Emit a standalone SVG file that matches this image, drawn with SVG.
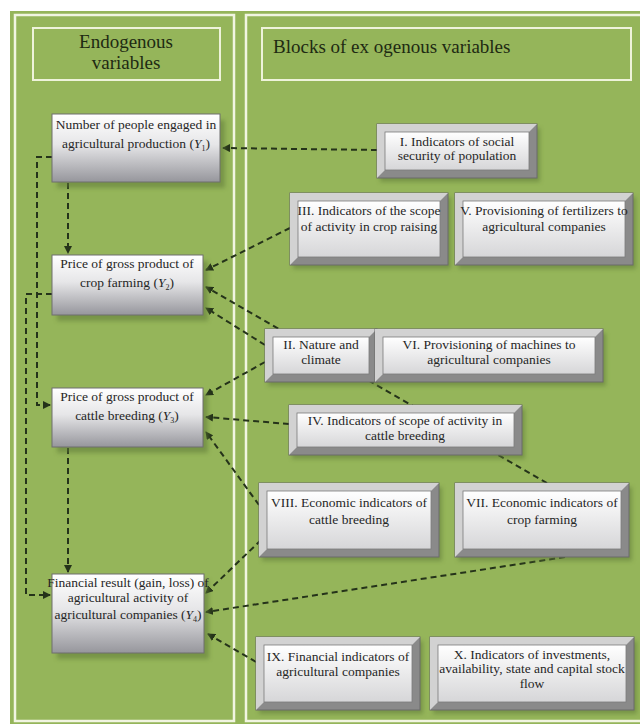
<svg xmlns="http://www.w3.org/2000/svg" width="640" height="724" viewBox="0 0 640 724">
<style>
.bg{fill:#95b55a}
.panel{fill:none;stroke:#f1f5e1;stroke-width:2.5}
.hdr{fill:none;stroke:#eef3da;stroke-width:2}
.ht{font-family:"Liberation Serif",serif;font-size:19px;fill:#1e2a12}
.t{font-family:"Liberation Serif",serif;font-size:13.5px;fill:#262626}
.lnode{fill:url(#gl);stroke:#6f6f6f;stroke-width:1}
.shadow{fill:#5f7a38;opacity:0.55;filter:url(#blur)}
.outer{fill:#8a8a8a;stroke:#6a6a6a;stroke-width:1}
.bevel{fill:#d2d2d2}
.face{fill:url(#gr);stroke:#7a7a7a;stroke-width:0.8}
.c{fill:none;stroke:#25331a;stroke-width:2;stroke-dasharray:6 4;marker-end:url(#ah)}
.cn{fill:none;stroke:#25331a;stroke-width:2;stroke-dasharray:6 4}
</style>
<defs>
<linearGradient id="gl" x1="0" y1="0" x2="0" y2="1">
<stop offset="0" stop-color="#ffffff"/>
<stop offset="0.45" stop-color="#e6e6e8"/>
<stop offset="1" stop-color="#96969c"/>
</linearGradient>
<linearGradient id="gr" x1="0" y1="0" x2="0" y2="1">
<stop offset="0" stop-color="#ffffff"/>
<stop offset="1" stop-color="#d6d6d8"/>
</linearGradient>
<filter id="blur" x="-10%" y="-10%" width="130%" height="130%"><feGaussianBlur stdDeviation="2"/></filter>
<marker id="ah" markerWidth="8" markerHeight="8" refX="7" refY="4" orient="auto" markerUnits="userSpaceOnUse">
<path d="M0,0 L8,4 L0,8 z" fill="#25331a"/>
</marker>
</defs>
<rect x="0" y="0" width="640" height="724" fill="#ffffff"/>
<rect class="bg" x="10" y="11" width="630" height="713"/>
<rect class="panel" x="15" y="15" width="219" height="706"/>
<rect class="panel" x="246" y="15" width="400" height="706"/>

<g id="hdr-endo">
<rect class="hdr" x="33" y="28" width="187" height="52"/>
<text class="ht" x="126" y="48" text-anchor="middle">Endogenous</text>
<text class="ht" x="126" y="69" text-anchor="middle">variables</text>
</g>
<g id="hdr-exo">
<rect class="hdr" x="262" y="28" width="369" height="52"/>
<text class="ht" x="273" y="53">Blocks of ex ogenous variables</text>
</g>

<g id="connectors">
<path class="c" d="M377,150 L223,148"/>
<path class="c" d="M68,183 L68,253"/>
<path class="c" d="M52,157 L37,157 L37,405 L50,405"/>
<path class="c" d="M52,294 L26,294 L26,595 L50,595"/>
<path class="c" d="M68,448 L68,572"/>
<path class="c" d="M290,228 L206,270"/>
<path class="c" d="M547,483 L206,287"/>
<path class="c" d="M265,345 L206,308"/>
<path class="c" d="M265,362 L206,395"/>
<path class="c" d="M289,424 L206,417"/>
<path class="c" d="M259,505 L206,432"/>
<path class="c" d="M261,540 L206,593"/>
<path class="c" d="M565,557 L206,612"/>
<path class="c" d="M256,662 L208,634"/>
</g>

<g id="n-y1">
<rect class="shadow" x="57" y="120" width="168" height="68"/>
<rect class="lnode" x="52" y="114" width="168" height="68"/>
<text class="t" x="136" y="129" text-anchor="middle">Number of people engaged in</text>
<text class="t" x="136" y="148" text-anchor="middle">agricultural production (<tspan font-style="italic">Y</tspan><tspan font-size="8" dy="3">1</tspan><tspan dy="-3">)</tspan></text>
</g>
<g id="n-y2">
<rect class="shadow" x="57" y="261" width="151" height="60"/>
<rect class="lnode" x="52" y="255" width="151" height="60"/>
<text class="t" x="127" y="268" text-anchor="middle">Price of gross product of</text>
<text class="t" x="127" y="287" text-anchor="middle">crop farming (<tspan font-style="italic">Y</tspan><tspan font-size="8" dy="3">2</tspan><tspan dy="-3">)</tspan></text>
</g>
<g id="n-y3">
<rect class="shadow" x="57" y="394" width="151" height="59"/>
<rect class="lnode" x="52" y="388" width="151" height="59"/>
<text class="t" x="127" y="401" text-anchor="middle">Price of gross product of</text>
<text class="t" x="127" y="420" text-anchor="middle">cattle breeding (<tspan font-style="italic">Y</tspan><tspan font-size="8" dy="3">3</tspan><tspan dy="-3">)</tspan></text>
</g>
<g id="n-y4">
<rect class="shadow" x="57" y="580" width="152" height="79"/>
<rect class="lnode" x="52" y="574" width="152" height="79"/>
<text class="t" x="128" y="587" text-anchor="middle">Financial result (gain, loss) of</text>
<text class="t" x="128" y="602" text-anchor="middle">agricultural activity of</text>
<text class="t" x="128" y="619" text-anchor="middle">agricultural companies (<tspan font-style="italic">Y</tspan><tspan font-size="8" dy="3">4</tspan><tspan dy="-3">)</tspan></text>
</g>

<g id="n-I">
<rect class="shadow" x="380" y="128" width="160" height="54"/>
<rect class="outer" x="377" y="124" width="160" height="54"/>
<path class="bevel" d="M377,124 L537,124 L529,132 L385,132 L385,170 L377,178 z"/>
<rect class="face" x="385" y="132" width="144" height="38"/>
<text class="t" x="457" y="146" text-anchor="middle">I. Indicators of social</text>
<text class="t" x="457" y="160" text-anchor="middle">security of population</text>
</g>
<g id="n-III">
<rect class="shadow" x="293" y="197" width="158" height="72"/>
<rect class="outer" x="290" y="193" width="158" height="72"/>
<path class="bevel" d="M290,193 L448,193 L440,201 L298,201 L298,257 L290,265 z"/>
<rect class="face" x="298" y="201" width="142" height="56"/>
<text class="t" x="369" y="215" text-anchor="middle">III. Indicators of the scope</text>
<text class="t" x="369" y="231" text-anchor="middle">of activity in crop raising</text>
</g>
<g id="n-V">
<rect class="shadow" x="458" y="197" width="178" height="72"/>
<rect class="outer" x="455" y="193" width="178" height="72"/>
<path class="bevel" d="M455,193 L633,193 L625,201 L463,201 L463,257 L455,265 z"/>
<rect class="face" x="463" y="201" width="162" height="56"/>
<text class="t" x="544" y="215" text-anchor="middle">V. Provisioning of fertilizers to</text>
<text class="t" x="544" y="231" text-anchor="middle">agricultural companies</text>
</g>
<g id="n-II">
<rect class="shadow" x="268" y="333" width="112" height="53"/>
<rect class="outer" x="265" y="329" width="112" height="53"/>
<path class="bevel" d="M265,329 L377,329 L369,337 L273,337 L273,374 L265,382 z"/>
<rect class="face" x="273" y="337" width="96" height="37"/>
<text class="t" x="321" y="349" text-anchor="middle">II. Nature and</text>
<text class="t" x="321" y="364" text-anchor="middle">climate</text>
</g>
<g id="n-VI">
<rect class="shadow" x="378" y="333" width="228" height="53"/>
<rect class="outer" x="375" y="329" width="228" height="53"/>
<path class="bevel" d="M375,329 L603,329 L595,337 L383,337 L383,374 L375,382 z"/>
<rect class="face" x="383" y="337" width="212" height="37"/>
<text class="t" x="489" y="349" text-anchor="middle">VI. Provisioning of machines to</text>
<text class="t" x="489" y="364" text-anchor="middle">agricultural companies</text>
</g>
<g id="n-IV">
<rect class="shadow" x="292" y="409" width="233" height="50"/>
<rect class="outer" x="289" y="405" width="233" height="50"/>
<path class="bevel" d="M289,405 L522,405 L514,413 L297,413 L297,447 L289,455 z"/>
<rect class="face" x="297" y="413" width="217" height="34"/>
<text class="t" x="405" y="425" text-anchor="middle">IV. Indicators of scope of activity in</text>
<text class="t" x="405" y="440" text-anchor="middle">cattle breeding</text>
</g>
<g id="n-VIII">
<rect class="shadow" x="262" y="487" width="180" height="74"/>
<rect class="outer" x="259" y="483" width="180" height="74"/>
<path class="bevel" d="M259,483 L439,483 L431,491 L267,491 L267,549 L259,557 z"/>
<rect class="face" x="267" y="491" width="164" height="58"/>
<text class="t" x="349" y="507" text-anchor="middle">VIII. Economic indicators of</text>
<text class="t" x="349" y="524" text-anchor="middle">cattle breeding</text>
</g>
<g id="n-VII">
<rect class="shadow" x="458" y="487" width="174" height="74"/>
<rect class="outer" x="455" y="483" width="174" height="74"/>
<path class="bevel" d="M455,483 L629,483 L621,491 L463,491 L463,549 L455,557 z"/>
<rect class="face" x="463" y="491" width="158" height="58"/>
<text class="t" x="542" y="507" text-anchor="middle">VII. Economic indicators of</text>
<text class="t" x="542" y="524" text-anchor="middle">crop farming</text>
</g>
<g id="n-IX">
<rect class="shadow" x="259" y="641" width="164" height="73"/>
<rect class="outer" x="256" y="637" width="164" height="73"/>
<path class="bevel" d="M256,637 L420,637 L412,645 L264,645 L264,702 L256,710 z"/>
<rect class="face" x="264" y="645" width="148" height="57"/>
<text class="t" x="338" y="661" text-anchor="middle">IX. Financial indicators of</text>
<text class="t" x="338" y="676" text-anchor="middle">agricultural companies</text>
</g>
<g id="n-X">
<rect class="shadow" x="433" y="641" width="204" height="73"/>
<rect class="outer" x="430" y="637" width="204" height="73"/>
<path class="bevel" d="M430,637 L634,637 L626,645 L438,645 L438,702 L430,710 z"/>
<rect class="face" x="438" y="645" width="188" height="57"/>
<text class="t" x="532" y="659" text-anchor="middle">X. Indicators of investments,</text>
<text class="t" x="532" y="673" text-anchor="middle">availability, state and capital stock</text>
<text class="t" x="532" y="688" text-anchor="middle">flow</text>
</g>
</svg>
